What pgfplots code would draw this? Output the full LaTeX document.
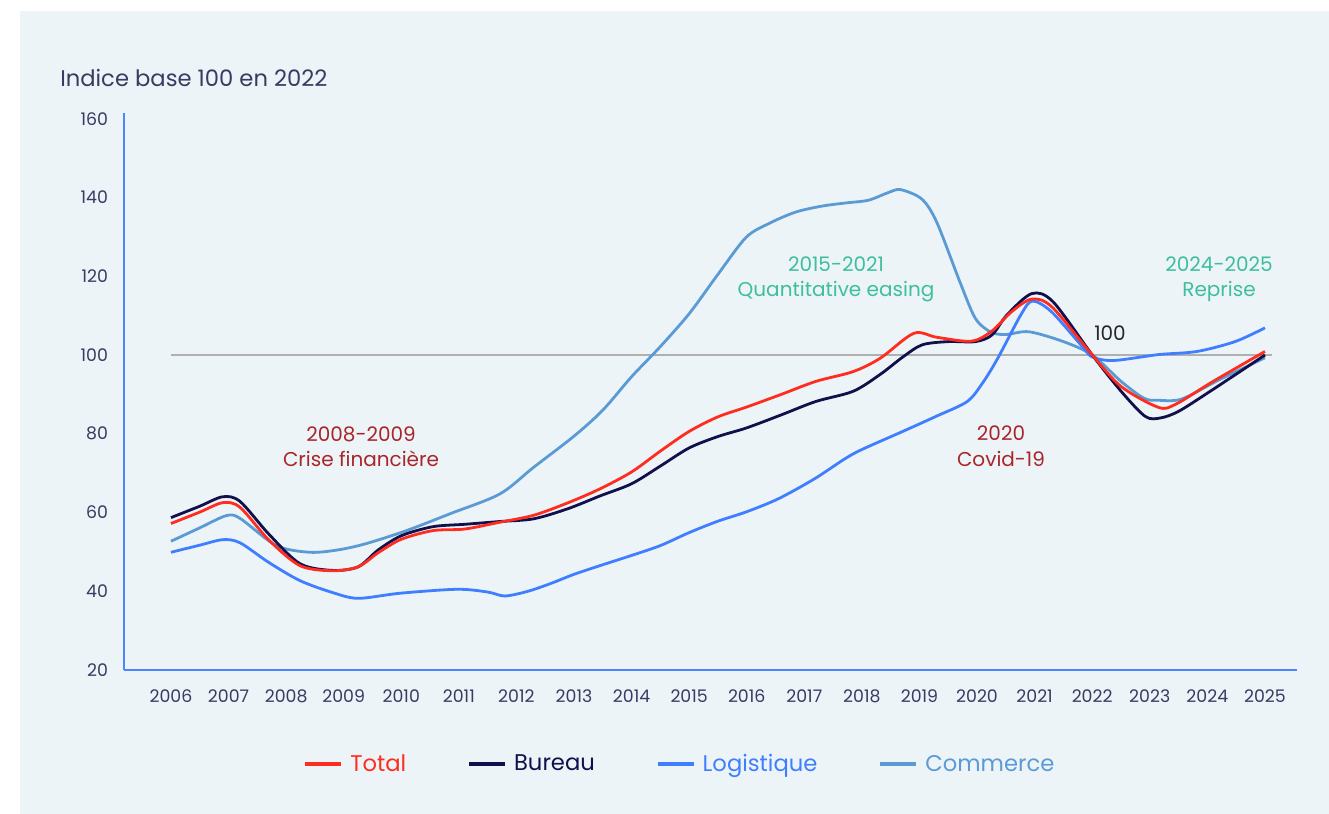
\documentclass[border=0pt]{standalone}
\usepackage{fontspec}
\setmainfont{Poppins}
\usepackage{pgfplots}
\pgfplotsset{compat=1.18}

\definecolor{panel}{HTML}{EDF4F8}
\definecolor{totalred}{HTML}{FF2D1F}
\definecolor{bureau}{HTML}{12104A}
\definecolor{logi}{HTML}{3F7FFF}
\definecolor{commerce}{HTML}{5A9BD5}
\definecolor{annred}{HTML}{A8262B}
\definecolor{annteal}{HTML}{3DBE9F}
\definecolor{axisblue}{HTML}{4C86FF}
\definecolor{ticktext}{HTML}{3A3A62}
\definecolor{refgray}{HTML}{B0B0B0}

\begin{document}
\begin{tikzpicture}[x=0.75pt,y=0.75pt]
\path[use as bounding box] (0,0) rectangle (1329,814);
\fill[panel] (20,0) rectangle (1329,803);

\begin{axis}[
    at={(93pt,108pt)}, anchor=south west,
    scale only axis, width=879.75pt, height=417.75pt,
    xmin=2005.184, xmax=2025.556, ymin=20, ymax=161.46,
    axis x line*=bottom, axis y line*=left,
    axis line style={axisblue, line width=1pt, -},
    xtick={2006,...,2025}, ytick={20,40,...,160},
    major tick length=0pt,
    tick label style={font=\fontsize{13}{15}\selectfont, text=ticktext},
    /pgf/number format/assume math mode=true,
    xticklabel style={/pgf/number format/1000 sep=, yshift=-11pt},
    yticklabel style={xshift=-8.5pt},
    clip=false,
    legend columns=4,
    legend style={at={(0.4749,-0.1688)}, anchor=center, draw=none, fill=none,
        font=\fontsize{17}{20}\selectfont,
        nodes={inner sep=3pt},
        /tikz/every even column/.append style={column sep=43pt}},
    legend image code/.code={\draw[#1] (0pt,0pt) -- (27pt,0pt); \path (29.5pt,0pt);},
]
% reference line at 100
\addplot[refgray, line width=2.2pt, forget plot] coordinates {(2006,100) (2025.12,100)};

% Commerce
\addplot[commerce, line width=2.1pt, smooth, forget plot] coordinates {
(2006.0,52.7) (2006.5,56.1) (2006.96,59.2) (2007.2,58.5) (2007.83,51.6)
(2008.41,49.9) (2008.9,50.5) (2009.39,52.1) (2010.09,55.4) (2010.85,59.7)
(2011.71,64.7) (2012.3,71.5) (2013.0,79.4) (2013.5,86.0) (2014.0,94.5)
(2014.49,102.0) (2015.0,110.5) (2015.5,120.5) (2015.99,129.9) (2016.4,133.5)
(2016.85,136.3) (2017.3,137.8) (2017.71,138.6) (2018.11,139.3) (2018.45,141.2)
(2018.67,142.0) (2019.04,139.6) (2019.3,133.7) (2019.7,118.6) (2019.97,109.3)
(2020.24,105.8) (2020.5,105.2) (2020.9,105.9) (2021.5,103.4) (2022.0,100.0)
(2022.5,93.3) (2022.9,89.0) (2023.15,88.5) (2023.55,88.8) (2024.15,93.3)
(2024.6,96.5) (2025.0,99.3)
};

% Logistique
\addplot[logi, line width=2.1pt, smooth, forget plot] coordinates {
(2006.0,49.9) (2006.5,51.7) (2006.9,53.1) (2007.2,52.3) (2007.7,47.3)
(2008.24,42.7) (2008.8,39.7) (2009.25,38.2) (2009.98,39.5) (2010.97,40.5)
(2011.5,39.8) (2011.8,38.8) (2012.2,40.0) (2012.6,42.0) (2013.0,44.3)
(2013.45,46.5) (2014.0,49.1) (2014.5,51.6) (2015.0,54.9) (2015.5,57.8)
(2016.0,60.2) (2016.55,63.5) (2017.17,68.5) (2017.7,73.6) (2018.0,76.0)
(2018.71,80.6) (2019.3,84.5) (2019.83,88.2) (2020.1,93.0) (2020.36,99.2)
(2020.76,110.2) (2020.96,113.7) (2021.29,111.0) (2021.83,102.1) (2022.0,99.5)
(2022.37,98.6) (2023.15,100.1) (2023.82,100.9) (2024.48,103.4) (2025.0,106.9)
};

% Bureau
\addplot[bureau, line width=2.1pt, smooth, forget plot] coordinates {
(2006.0,58.7) (2006.5,61.6) (2006.9,64.0) (2007.2,62.8) (2007.7,54.5)
(2008.24,47.0) (2008.8,45.3) (2009.25,46.2) (2009.6,50.5) (2010.0,54.1)
(2010.55,56.4) (2011.1,57.0) (2011.7,57.7) (2012.3,58.4) (2012.9,61.0)
(2013.45,64.2) (2014.0,67.3) (2014.5,71.8) (2015.0,76.4) (2015.5,79.3)
(2016.0,81.5) (2016.6,84.8) (2017.2,88.2) (2017.85,90.8) (2018.32,95.1)
(2018.72,99.6) (2019.05,102.6) (2019.5,103.4) (2019.97,103.4) (2020.26,105.1)
(2020.52,110.2) (2020.95,115.6) (2021.32,113.5) (2022.0,100.0) (2022.5,90.8)
(2022.92,84.4) (2023.18,84.0) (2023.5,85.7) (2024.05,90.8) (2025.0,100.0)
};

% Total
\addplot[totalred, line width=2.1pt, smooth, forget plot] coordinates {
(2006.0,57.2) (2006.5,60.1) (2006.9,62.5) (2007.2,61.3) (2007.7,53.0)
(2008.24,46.5) (2008.8,45.2) (2009.25,46.2) (2009.6,49.8) (2010.0,53.2)
(2010.55,55.4) (2011.1,55.8) (2011.7,57.5) (2012.3,59.3) (2012.9,62.5)
(2013.45,66.0) (2014.0,70.3) (2014.5,75.6) (2015.0,80.6) (2015.5,84.3)
(2016.0,86.8) (2016.6,90.0) (2017.2,93.3) (2017.85,95.8) (2018.32,99.2)
(2018.9,105.5) (2019.3,104.5) (2019.9,103.5) (2020.25,106.0) (2020.6,111.0)
(2020.95,114.2) (2021.3,112.2) (2022.0,100.0) (2022.5,92.0) (2023.15,86.7)
(2023.45,87.5) (2024.1,93.3) (2025.0,100.9)
};

\addlegendimage{totalred, line width=2.4pt}
\addlegendentry{\textcolor{totalred}{Total}}
\addlegendimage{bureau, line width=2.4pt}
\addlegendentry{\textcolor{bureau}{Bureau}}
\addlegendimage{logi, line width=2.4pt}
\addlegendentry{\textcolor{logi}{Logistique}}
\addlegendimage{commerce, line width=2.4pt}
\addlegendentry{\textcolor{commerce}{Commerce}}
\end{axis}

% axis title
\node[anchor=base west, inner sep=0pt, text=ticktext, font=\fontsize{17}{20}\selectfont] at (60,727) {Indice base 100 en 2022};

% annotations
\begin{scope}[every node/.style={anchor=base, inner sep=0pt, font=\fontsize{15}{18}\selectfont}]
\node[text=annred] at (361,372) {2008-2009};
\node[text=annred] at (361,347) {Crise financière};
\node[text=annteal] at (836,542) {2015-2021};
\node[text=annteal] at (836,517) {Quantitative easing};
\node[text=annred] at (1001,373) {2020};
\node[text=annred] at (1001,347) {Covid-19};
\node[text=annteal] at (1219,542) {2024-2025};
\node[text=annteal] at (1219,517) {Reprise};
\node[text=black!85] at (1110,473) {100};
\end{scope}
\end{tikzpicture}
\end{document}
